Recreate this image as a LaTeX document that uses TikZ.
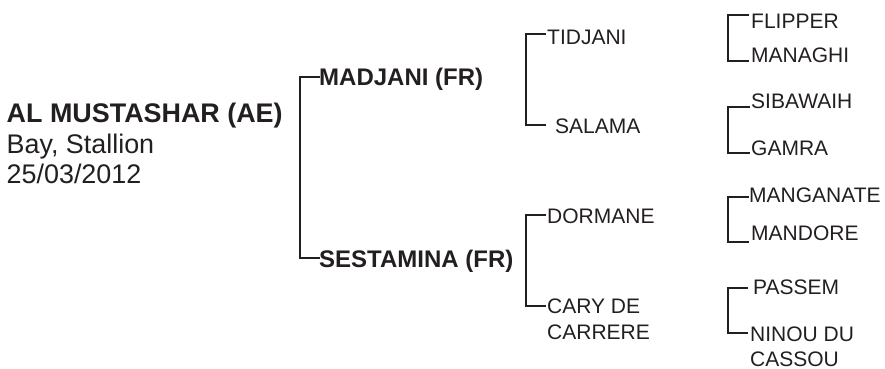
\documentclass[tikz,border=0pt]{standalone}
\usepackage{fontspec}
\setmainfont{Liberation Sans}
\definecolor{ink}{HTML}{231F20}
\tikzset{
  x=1pt,y=-1pt,
  lbl/.style={inner sep=0pt,anchor=base west,align=left,text=ink,font=\fontsize{21}{25.5}\selectfont},
  sire/.style={lbl,font=\fontsize{24}{30}\bfseries\selectfont},
  root/.style={lbl,font=\fontsize{26.9}{30.5}\selectfont},
  br/.style={draw=ink,line width=2.3pt,line join=miter}
}
\newcommand{\linkpair}[5]{%
  \coordinate (u) at ([shift={#2}]#1.base west);
  \coordinate (v) at ([shift={#4}]#3.base west);
  \draw[br] (u) -- (u -| #5) -- (v -| #5) -- (v);}
\begin{document}
\begin{tikzpicture}
\useasboundingbox (0,0) rectangle (885,368);
\coordinate (s0) at (299.7,0);
\coordinate (s1) at (525.7,0);
\coordinate (s3) at (727.7,0);
\node[root] (root) at (6.5,183.5) {\textbf{AL MUSTASHAR (AE)}\\Bay, Stallion\\25/03/2012};
\node[sire] (madjani) at (319,85.3) {MADJANI (FR)};
\node[sire] (sestamina) at (319,267.3) {SESTAMINA (FR)};
\node[lbl] (tidjani) at (547,44) {TIDJANI};
\node[lbl] (salama) at (555,133.3) {SALAMA};
\node[lbl] (dormane) at (547,223) {DORMANE};
\node[lbl] (cary) at (547,339) {CARY DE\\CARRERE};
\node[lbl] (flipper) at (751,28.3) {FLIPPER};
\node[lbl] (managhi) at (751,62) {MANAGHI};
\node[lbl] (sibawaih) at (751,108) {SIBAWAIH};
\node[lbl] (gamra) at (751,155) {GAMRA};
\node[lbl] (manganate) at (749,202.7) {MANGANATE};
\node[lbl] (mandore) at (751,240) {MANDORE};
\node[lbl] (passem) at (753,294.5) {PASSEM};
\node[lbl] (ninou) at (750,366.8) {NINOU DU\\CASSOU};
\linkpair{madjani}{(1,-8.6)}{sestamina}{(1,-9)}{s0}
\linkpair{tidjani}{(-1,-10)}{salama}{(-9,-8.3)}{s1}
\linkpair{dormane}{(-1,-8.3)}{cary}{(-1,-32.7)}{s1}
\linkpair{flipper}{(-2,-13)}{managhi}{(-2,-0.7)}{s3}
\linkpair{sibawaih}{(-1,-1.3)}{gamra}{(-1,-2.3)}{s3}
\linkpair{manganate}{(0,-6)}{mandore}{(-2,2.3)}{s3}
\linkpair{passem}{(-5,-6.5)}{ninou}{(-2,-33.5)}{s3}
\end{tikzpicture}
\end{document}
